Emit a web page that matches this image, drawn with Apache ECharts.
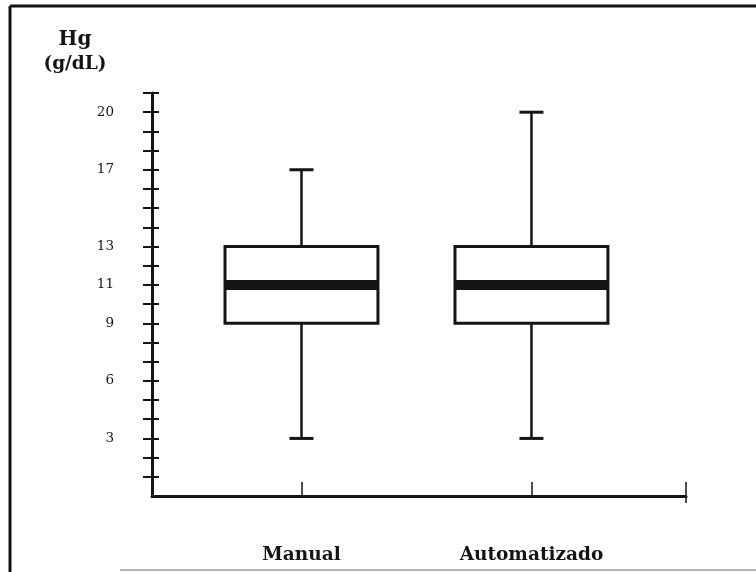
<!DOCTYPE html>
<html>
<head>
<meta charset="utf-8">
<script src="https://cdn.jsdelivr.net/npm/echarts@6/dist/echarts.min.js"></script>
<style>
html,body{margin:0;padding:0;background:#fff;}
#chart{width:756px;height:572px;}
</style>
</head>
<body>
<div id="chart"></div>
<script>
// ---- data ----
const categories = ['Manual', 'Automatizado'];
const categoryPos = [1, 2];
const whiskerLow = [3, 3];
const q1Values = [9, 9];
const medianValues = [11, 11];
const q3Values = [13, 13];
const whiskerHigh = [17, 20];
const yTickLabels = [3, 6, 9, 11, 13, 17, 20];
const yTickValues = [1,2,3,4,5,6,7,8,9,10,11,12,13,14,15,16,17,18,19,20,21];
const yTitle = ['Hg', '(g/dL)'];

const seriesData = categories.map((c, i) => [categoryPos[i], whiskerLow[i], q1Values[i], medianValues[i], q3Values[i], whiskerHigh[i]]);

const X_MIN = 0.35, X_MAX = 2.672;
const FONT = "'DejaVu Serif', serif";
const INK = '#141414';

function renderItem(params, api) {
  const x = api.value(0);
  const pLow = api.coord([x, api.value(1)]);
  const pQ1 = api.coord([x, api.value(2)]);
  const pMed = api.coord([x, api.value(3)]);
  const pQ3 = api.coord([x, api.value(4)]);
  const pHigh = api.coord([x, api.value(5)]);
  const boxW = api.size([0.665, 0])[0];
  const capW = 24;
  const cx = pQ1[0];
  const lineStyle = { stroke: INK, lineWidth: 2.5, fill: null };
  return {
    type: 'group',
    children: [
      { type: 'line', shape: { x1: cx, y1: pLow[1], x2: cx, y2: pQ1[1] }, style: lineStyle },
      { type: 'line', shape: { x1: cx, y1: pQ3[1], x2: cx, y2: pHigh[1] }, style: lineStyle },
      { type: 'line', shape: { x1: cx - capW / 2, y1: pLow[1], x2: cx + capW / 2, y2: pLow[1] }, style: { stroke: INK, lineWidth: 3 } },
      { type: 'line', shape: { x1: cx - capW / 2, y1: pHigh[1], x2: cx + capW / 2, y2: pHigh[1] }, style: { stroke: INK, lineWidth: 3 } },
      { type: 'rect', shape: { x: cx - boxW / 2, y: pQ3[1], width: boxW, height: pQ1[1] - pQ3[1] }, style: { fill: '#fff', stroke: INK, lineWidth: 3 } },
      { type: 'rect', shape: { x: cx - boxW / 2, y: pMed[1] - 5, width: boxW, height: 10 }, style: { fill: INK } }
    ]
  };
}

const chart = echarts.init(document.getElementById('chart'));
chart.setOption({
  backgroundColor: '#fff',
  animation: false,
  grid: { left: 152, right: 70, top: 93, bottom: 76, containLabel: false },
  xAxis: [
    {
      type: 'value', min: X_MIN, max: X_MAX,
      splitLine: { show: false },
      axisLine: { show: true, lineStyle: { color: INK, width: 3 } },
      axisTick: { show: true, inside: true, length: 14, customValues: [1, 2, X_MAX], lineStyle: { color: INK, width: 1.5 } },
      axisLabel: {
        show: true, customValues: categoryPos, margin: 50,
        formatter: v => categories[categoryPos.indexOf(v)] || '',
        fontFamily: FONT, fontWeight: 'bold', fontSize: 18.5, color: INK
      }
    },
    {
      type: 'value', min: X_MIN, max: X_MAX, position: 'bottom',
      splitLine: { show: false },
      axisLine: { show: false },
      axisTick: { show: true, inside: false, length: 7, customValues: [X_MAX], lineStyle: { color: INK, width: 1.5 } },
      axisLabel: { show: false }
    }
  ],
  yAxis: [
    {
      type: 'value', min: 0, max: 21, position: 'left',
      splitLine: { show: false },
      axisLine: { show: true, lineStyle: { color: INK, width: 3 } },
      axisTick: { show: true, inside: false, length: 9, customValues: yTickValues, lineStyle: { color: INK, width: 2 } },
      axisLabel: { show: true, customValues: yTickLabels, margin: 38, fontFamily: FONT, fontSize: 13.5, color: INK }
    },
    {
      type: 'value', min: 0, max: 21, position: 'left',
      splitLine: { show: false },
      axisLine: { show: false },
      axisTick: { show: true, inside: true, length: 7, customValues: yTickValues, lineStyle: { color: INK, width: 2 } },
      axisLabel: { show: false }
    }
  ],
  graphic: [
    { type: 'line', shape: { x1: 10, y1: 6, x2: 756, y2: 6 }, style: { stroke: '#111', lineWidth: 3 } },
    { type: 'line', shape: { x1: 10, y1: 6, x2: 10, y2: 572 }, style: { stroke: '#111', lineWidth: 3 } },
    { type: 'line', shape: { x1: 120, y1: 570, x2: 756, y2: 570 }, style: { stroke: '#999', lineWidth: 1.5 } },
    { type: 'text', x: 75, y: 40, style: { text: yTitle[0], fontFamily: FONT, fontWeight: 'bold', fontSize: 20, fill: INK, textAlign: 'center', textVerticalAlign: 'middle' } },
    { type: 'text', x: 75, y: 64, style: { text: yTitle[1], fontFamily: FONT, fontWeight: 'bold', fontSize: 18.5, fill: INK, textAlign: 'center', textVerticalAlign: 'middle' } }
  ],
  series: [{
    type: 'custom',
    xAxisIndex: 0, yAxisIndex: 0,
    renderItem: renderItem,
    encode: { x: 0, y: [1, 2, 3, 4, 5] },
    data: seriesData,
    clip: false
  }]
});
</script>
</body>
</html>
